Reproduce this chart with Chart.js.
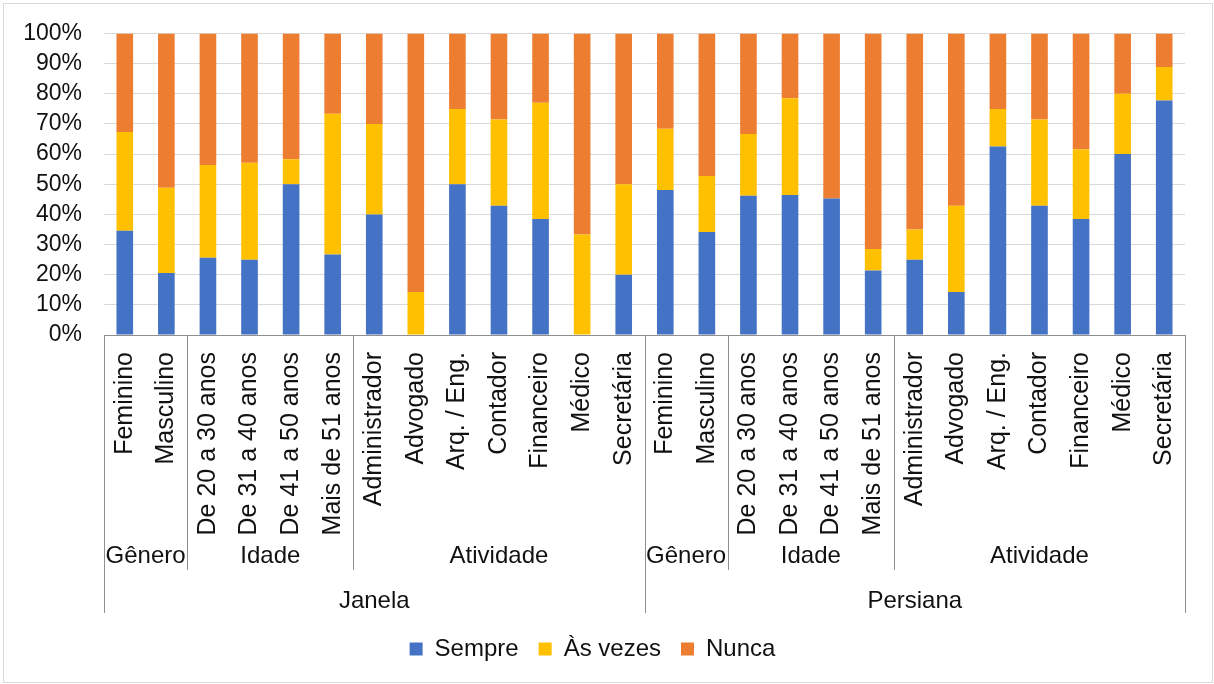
<!DOCTYPE html>
<html>
<head>
<meta charset="utf-8">
<script src="https://cdn.jsdelivr.net/npm/chart.js@4.4.1/dist/chart.umd.min.js"></script>
<style>
  body { margin: 0; background: #fff; }
  #wrap { width: 1214px; height: 684px; position: relative; }
</style>
</head>
<body>
<div id="wrap"><canvas id="freqChart"></canvas></div>
<script>
// categories (level 1), grouped by level 2 and level 3
const categories = [
    'Feminino', 'Masculino',
    'De 20 a 30 anos', 'De 31 a 40 anos', 'De 41 a 50 anos', 'Mais de 51 anos',
    'Administrador', 'Advogado', 'Arq. / Eng.', 'Contador', 'Financeiro', 'Médico', 'Secretária',
    'Feminino', 'Masculino',
    'De 20 a 30 anos', 'De 31 a 40 anos', 'De 41 a 50 anos', 'Mais de 51 anos',
    'Administrador', 'Advogado', 'Arq. / Eng.', 'Contador', 'Financeiro', 'Médico', 'Secretária'
];
// level 2 groups: [label, count]
const subGroups = [
    ['Gênero', 2], ['Idade', 4], ['Atividade', 7],
    ['Gênero', 2], ['Idade', 4], ['Atividade', 7]
];
// level 3 groups: [label, count]
const mainGroups = [['Janela', 13], ['Persiana', 13]];

const seriesNames = ['Sempre', 'Às vezes', 'Nunca'];
const sempre = [34.6, 20.6, 25.6, 25.0, 50.0, 26.7, 40.0, 0, 50.0, 42.9, 38.5, 0, 20.0,
                48.1, 34.2, 46.2, 46.4, 45.3, 21.4, 25.0, 14.3, 62.5, 42.9, 38.5, 60.0, 77.8];
const asVezes = [32.7, 28.2, 30.8, 32.1, 8.3, 46.7, 30.0, 14.3, 25.0, 28.6, 38.5, 33.3, 30.0,
                 20.3, 18.5, 20.5, 32.1, 0, 7.1, 10.0, 28.6, 12.5, 28.6, 23.1, 20.0, 11.1];
const nunca = [32.7, 51.2, 43.6, 42.9, 41.7, 26.6, 30.0, 85.7, 25.0, 28.5, 23.0, 66.7, 50.0,
               31.6, 47.3, 33.3, 21.5, 54.7, 71.5, 65.0, 57.1, 25.0, 28.5, 38.4, 20.0, 11.1];
const yTicks = [0, 10, 20, 30, 40, 50, 60, 70, 80, 90, 100];

const FONT = '"Liberation Sans", Arial, sans-serif';
const TEXT = '#111';
const LINE = '#8f8f8f';

// multi-level category labels and separators below the axis
const groupAxis = {
    id: 'groupAxis',
    afterDraw(chart) {
        const ctx = chart.ctx;
        const x = chart.scales.x;
        const bottom = chart.chartArea.bottom;
        const half = (x.getPixelForValue(1) - x.getPixelForValue(0)) / 2;
        const edge = i => x.getPixelForValue(i) - half;

        ctx.save();
        ctx.strokeStyle = LINE;
        ctx.lineWidth = 1;
        ctx.fillStyle = TEXT;
        ctx.font = '24px ' + FONT;
        ctx.textAlign = 'center';
        ctx.textBaseline = 'middle';

        let i = 0;
        subGroups.forEach(([label, n]) => {
            const a = edge(i), b = edge(i + n);
            ctx.beginPath();
            ctx.moveTo(Math.round(b) + 0.5, bottom);
            ctx.lineTo(Math.round(b) + 0.5, bottom + 235);
            ctx.stroke();
            ctx.fillText(label, (a + b) / 2, bottom + 221);
            i += n;
        });

        i = 0;
        ctx.beginPath();
        ctx.moveTo(Math.round(edge(0)) + 0.5, bottom);
        ctx.lineTo(Math.round(edge(0)) + 0.5, bottom + 278);
        ctx.stroke();
        mainGroups.forEach(([label, n]) => {
            const a = edge(i), b = edge(i + n);
            ctx.beginPath();
            ctx.moveTo(Math.round(b) + 0.5, bottom);
            ctx.lineTo(Math.round(b) + 0.5, bottom + 278);
            ctx.stroke();
            ctx.fillText(label, (a + b) / 2, bottom + 266);
            i += n;
        });

        // outer chart border
        ctx.strokeStyle = '#d9d9d9';
        ctx.strokeRect(3.5, 3.5, chart.width - 5, chart.height - 5);
        ctx.restore();
    }
};

const colors = ['#4472C4', '#FFC000', '#ED7D31'];
const values = [sempre, asVezes, nunca];

new Chart(document.getElementById('freqChart'), {
    type: 'bar',
    data: {
        labels: categories,
        datasets: seriesNames.map((name, k) => ({
            label: name,
            data: values[k],
            backgroundColor: colors[k],
            borderWidth: 0,
            barPercentage: 1,
            categoryPercentage: 0.4
        }))
    },
    options: {
        responsive: true,
        maintainAspectRatio: false,
        animation: false,
        layout: { padding: { left: 0, top: 33, right: 29, bottom: 13 } },
        plugins: {
            legend: {
                position: 'bottom',
                labels: {
                    color: TEXT,
                    font: { family: FONT, size: 24 },
                    boxWidth: 13,
                    boxHeight: 13,
                    padding: 20
                }
            },
            tooltip: { enabled: false }
        },
        scales: {
            x: {
                stacked: true,
                grid: { display: false, drawTicks: false },
                border: { display: true, color: LINE, width: 1 },
                ticks: {
                    color: TEXT,
                    font: { family: FONT, size: 25 },
                    minRotation: 90,
                    maxRotation: 90,
                    autoSkip: false,
                    padding: 17
                },
                afterFit: s => { s.height = 282; }
            },
            y: {
                stacked: true,
                min: 0,
                max: 100,
                afterBuildTicks: s => { s.ticks = yTicks.map(v => ({ value: v })); },
                grid: { color: '#d9d9d9', lineWidth: 1, drawTicks: false },
                border: { display: false },
                ticks: {
                    color: TEXT,
                    font: { family: FONT, size: 23, lineHeight: 1 },
                    padding: 22,
                    autoSkip: false,
                    callback: v => v + '%'
                },
                afterFit: s => { s.width = 104; }
            }
        }
    },
    plugins: [groupAxis]
});
</script>
</body>
</html>
